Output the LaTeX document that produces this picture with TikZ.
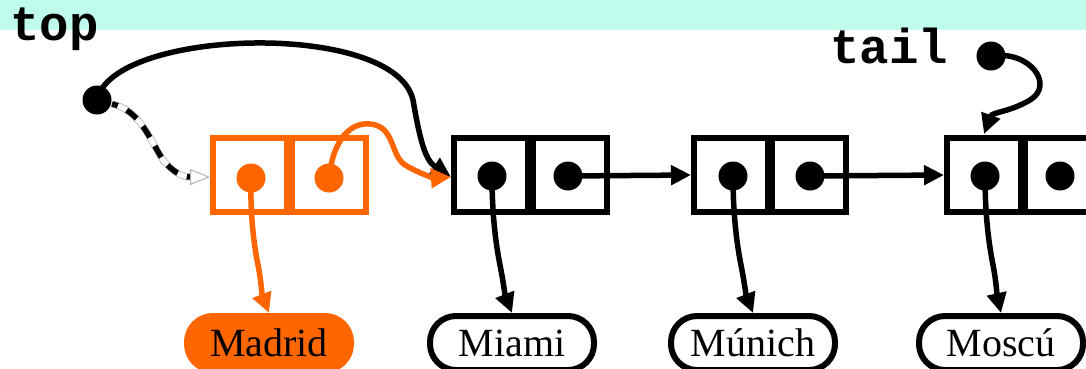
\documentclass[tikz,border=0pt]{standalone}
\usepackage{fontspec}
\setmainfont{Liberation Serif}
\setmonofont{Liberation Mono}
\usetikzlibrary{arrows.meta}
\definecolor{mint}{HTML}{C0FCEC}
\definecolor{org}{HTML}{FF6600}
\begin{document}
\begin{tikzpicture}[x=1pt,y=-1pt,
  cell/.style={draw,line width=6pt,minimum width=74pt,minimum height=74pt,inner sep=0pt},
  dotr/.style={radius=14.5pt},
  ptr/.style={line width=5.5pt,-{Triangle[length=20pt,width=19pt]}},
  pill/.style={draw,line width=6pt,rounded corners=26pt,minimum width=164pt,minimum height=54pt,inner sep=0pt,font=\fontsize{40}{40}\selectfont},
  lbl/.style={font=\fontsize{49}{49}\selectfont\ttfamily\bfseries,inner sep=0pt,anchor=base west}
]
\useasboundingbox (0,0) rectangle (1086,368);
\clip (0,0) rectangle (1086,368);
\fill[mint] (0,0) rectangle (1086,30);
\node[lbl] (toplbl) at (10,40) {top};
\node[lbl] (taillbl) at (830,63) {tail};
% orange node
\node[cell,draw=org] (oa) at (250,175) {};
\node[cell,draw=org] (ob) at (329,175) {};
% black nodes
\node[cell] (a1) at (491,175) {};
\node[cell] (b1) at (570,175) {};
\node[cell] (a2) at (731,175) {};
\node[cell] (b2) at (809,175) {};
\node[cell] (a3) at (984,175) {};
\node[cell] (b3) at (1062,175) {};
% dots
\coordinate (topdot) at (97,100);
\coordinate (taildot) at (991,56);
\coordinate (oda) at (251,178);
\coordinate (odb) at (329,178);
\coordinate (da1) at (492,176);
\coordinate (db1) at (568,176);
\coordinate (da2) at (733,176);
\coordinate (db2) at (810,176);
\coordinate (da3) at (985,176);
\coordinate (db3) at (1060,176);
\fill[dotr] (topdot) circle[] (taildot) circle[] (da1) circle[] (db1) circle[] (da2) circle[] (db2) circle[] (da3) circle[] (db3) circle[];
\fill[org,dotr] (oda) circle[] (odb) circle[];
% labels
\node[pill,draw=org,fill=org] (madrid) at (269,343) {Madrid};
\node[pill] (miami) at (512,343) {Miami};
\node[pill] (munich) at (753,343) {Múnich};
\node[pill] (moscu) at (1001,343) {Moscú};
% down pointers
\draw[ptr,org] (oda) .. controls (250,220) and (255,250) .. (258,265) .. controls (261,280) and (262,295) .. (madrid.north);
\draw[ptr] (da1) .. controls (492,220) and (497,250) .. (500,265) .. controls (503,280) and (505,295) .. (miami.north);
\draw[ptr] (da2) .. controls (733,220) and (738,250) .. (741,265) .. controls (744,280) and (746,295) .. (munich.north);
\draw[ptr] (da3) .. controls (985,220) and (990,250) .. (993,265) .. controls (996,280) and (997,295) .. (moscu.north);
% next pointers
\draw[ptr] (db1) -- (a2.west);
\draw[ptr] (db2) -- (a3.west);
% top pointer
\coordinate (n1in) at (451,177);
\draw[ptr] (topdot) .. controls (112,28) and (395,20) .. (413,100) .. controls (420,140) and (425,160) .. (n1in);
% orange next pointer
\draw[ptr,org] (odb) .. controls (333,140) and (350,122) .. (370,124) .. controls (395,126) and (390,155) .. (405,165) .. controls (420,174) and (435,178) .. (n1in);
% tail pointer
\coordinate (n3top) at (984,134);
\draw[ptr] (taildot) .. controls (1030,50) and (1055,85) .. (1030,100) .. controls (1010,112) and (992,112) .. (n3top);
% old dashed pointer
\coordinate (ohin) at (210,177);
\draw[line width=7pt,black!25] (112,104) .. controls (140,110) and (150,140) .. (163,160) .. controls (173,172) and (182,177) .. (190,177);
\draw[line width=5pt,white] (112,104) .. controls (140,110) and (150,140) .. (163,160) .. controls (173,172) and (182,177) .. (190,177);
\draw[line width=5.5pt,dash pattern=on 13pt off 10pt,dash phase=-16pt] (112,104) .. controls (140,110) and (150,140) .. (163,160) .. controls (173,172) and (182,177) .. (190,177);
\draw[line width=1pt,black!30,fill=white,-{Triangle[open,length=20pt,width=16pt]}] (190,177) -- (ohin);
\end{tikzpicture}
\end{document}
